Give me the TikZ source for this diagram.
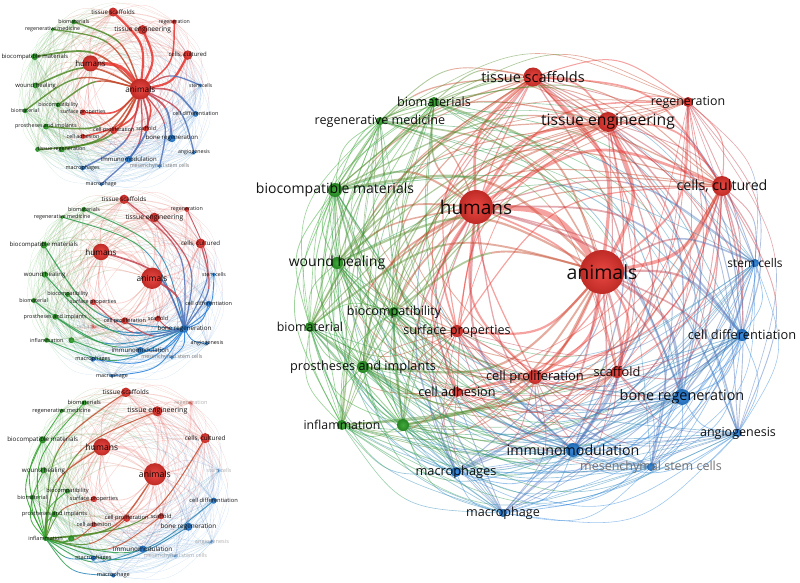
\documentclass[tikz,border=0pt]{standalone}
\usepackage{fontspec}
\setmainfont{Open Sans}
\definecolor{cR}{RGB}{232,52,46}
\definecolor{cG}{RGB}{45,160,40}
\definecolor{cB}{RGB}{40,128,218}

% index/x/y/cluster/radius/fontsize/state(main,net1,net2,net3)/label
\def\NL{%
1/533/77/R/9.5/14.5/1/1/1/1/{tissue scaffolds},
2/434/102/G/5/12.7/1/1/1/1/{biomaterials},
3/380/121/G/4/12.6/1/1/1/1/{regenerative medicine},
4/688/102/R/5/12.4/1/1/1/2/{regeneration},
5/608/122/R/10/15.7/1/1/1/1/{tissue engineering},
6/335/190/G/7/14/1/1/1/1/{biocompatible materials},
7/476/207/R/17/19/1/1/1/1/{humans},
8/722/186/R/10/14.2/1/1/1/1/{cells, cultured},
9/337/263/G/6/14/1/1/1/1/{wound healing},
10/602/272/R/22/19.5/1/1/1/1/{animals},
11/755/263/B/4/12/1/1/1/2/{stem cells},
12/394/312/G/5/12.6/1/1/1/1/{biocompatibility},
13/310/327/G/5/12.4/1/1/1/1/{biomaterial},
14/457/331/R/6/12.6/1/1/1/1/{surface properties},
15/742/335/B/6/12.8/1/1/1/1/{cell differentiation},
16/363/367/G/6/12.7/1/1/1/1/{prostheses and implants},
17/535/377/R/7/12.9/1/1/1/1/{cell proliferation},
18/617/372/R/6/12.8/1/1/1/1/{scaffold},
19/457/392/R/5/12.7/1/1/2/1/{cell adhesion},
20/682/397/B/8/14.4/1/1/1/1/{bone regeneration},
21/342/425/G/5/12.3/1/0/1/1/{inflammation},
22/403/425/G/6/12.7/0/1/0/0/{tissue regeneration},
23/738/433/B/4/12.5/1/1/1/2/{angiogenesis},
24/573/450/B/7/14.2/1/1/1/1/{immunomodulation},
25/651/467/B/4/12.5/3/3/3/2/{mesenchymal stem cells},
26/456/472/B/5/12.8/1/1/1/1/{macrophages},
27/503/513/B/4/12.6/1/1/1/1/{macrophage}}

% #1 prefix, #2 net number, #3 #4 shift, #5 scale, #6 highlighted node (0 = none), #7 node size factor
\newcommand\drawnet[7]{%
\begin{scope}[shift={(#3,#4)},scale=#5]
\foreach \i/\x/\y/\c/\r/\f/\va/\vb/\vc/\vd/\l in \NL {\coordinate (#1\i) at (\x,\y);}
\foreach \pass in {0,1}{%
\foreach \i/\x/\y/\c/\r/\f/\va/\vb/\vc/\vd/\l in \NL {%
\foreach \j/\X/\Y/\C/\R/\F/\wa/\wb/\wc/\wd/\L in \NL {%
\ifnum\j>\i\relax
  \edef\sti{\ifcase#2 \va\or\vb\or\vc\or\vd\fi}%
  \edef\stj{\ifcase#2 \wa\or\wb\or\wc\or\wd\fi}%
  \pgfmathtruncatemacro\hl{((#6==\i || #6==\j) && \sti!=2 && \stj!=2) ? 1 : 0}%
  \ifnum\hl=\pass\relax
    \pgfmathsetmacro\mx{(\x+\X)/2}%
    \pgfmathsetmacro\my{(\y+\Y)/2}%
    \pgfmathsetmacro\dx{\X-\x}%
    \pgfmathsetmacro\dy{\Y-\y}%
    \pgfmathsetmacro\s{((\dy/20)*((\mx-535)/20)-(\dx/20)*((\my-290)/20))>=0 ? 1 : -1}%
    \pgfmathsetmacro\qx{\mx+0.25*\s*\dy}%
    \pgfmathsetmacro\qy{\my-0.25*\s*\dx}%
    \pgfmathsetmacro\w{0.35+0.014*\r*\R}%
    \ifnum#6=0
      \def\eop{0.45}\let\ew\w
    \else
      \ifnum\hl=1
        \def\eop{0.85}\pgfmathsetmacro\ew{0.5+0.5*\w}%
      \else
        \def\eop{0.2}\pgfmathsetmacro\ew{0.4*\w}%
      \fi
    \fi
    \if\c\C
      \draw[draw=c\c, draw opacity=\eop, line width=\ew pt, line cap=round]
        (#1\i) .. controls (\qx,\qy) .. (#1\j);
    \else
      \pgfmathsetmacro\ax{(\x+\qx)/2}\pgfmathsetmacro\ay{(\y+\qy)/2}%
      \pgfmathsetmacro\bx{(\x+3*\qx)/4}\pgfmathsetmacro\by{(\y+3*\qy)/4}%
      \pgfmathsetmacro\cx{(\X+3*\qx)/4}\pgfmathsetmacro\cy{(\Y+3*\qy)/4}%
      \pgfmathsetmacro\ex{(\X+\qx)/2}\pgfmathsetmacro\ey{(\Y+\qy)/2}%
      \coordinate (#1m\i-\j) at ({(\x+6*\qx+\X)/8},{(\y+6*\qy+\Y)/8});
      \draw[draw=c\c!80!c\C, draw opacity=\eop, line width=\ew pt, line cap=butt]
        (#1\i) .. controls (\ax,\ay) and (\bx,\by) .. (#1m\i-\j);
      \draw[draw=c\C!80!c\c, draw opacity=\eop, line width=\ew pt, line cap=butt]
        (#1m\i-\j) .. controls (\cx,\cy) and (\ex,\ey) .. (#1\j);
    \fi
  \fi
\fi
}}}
\foreach \i/\x/\y/\c/\r/\f/\va/\vb/\vc/\vd/\l in \NL {%
  \edef\st{\ifcase#2 \va\or\vb\or\vc\or\vd\fi}%
  \ifnum\st=2
    \fill[c\c, opacity=0.3] (#1\i) circle[radius=#7*\r];
  \else
    \shade[inner color=c\c!90!white, outer color=c\c!82!black] (#1\i) circle[radius=#7*\r];
  \fi
}
\foreach \i/\x/\y/\c/\r/\f/\va/\vb/\vc/\vd/\l in \NL {%
  \edef\st{\ifcase#2 \va\or\vb\or\vc\or\vd\fi}%
  \pgfmathsetmacro\fs{\f*#5*(1+(#7-1)/3)}%
  \ifnum\st>0
    \ifcase\st\or\def\tc{black}\def\top{0.92}\or\def\tc{black}\def\top{0.3}\or\def\tc{black!55}\def\top{1}\fi
    \node[font=\fontsize{\fs}{\fs}\selectfont, text=\tc, text opacity=\top, inner sep=0pt] (#1t\i) at (#1\i) {\l};
  \fi
}
\end{scope}}

\begin{document}
\begin{tikzpicture}[x=1pt,y=-1pt]
\useasboundingbox (0,0) rectangle (800,583);
\drawnet{m}{0}{0}{0}{1}{0}{1}
\drawnet{a}{1}{-97.5}{-18.4}{0.395}{10}{1.2}
\drawnet{b}{2}{-91.8}{168.1}{0.405}{20}{1.2}
\drawnet{c}{3}{-98}{360}{0.42}{21}{1.2}
\end{tikzpicture}
\end{document}
